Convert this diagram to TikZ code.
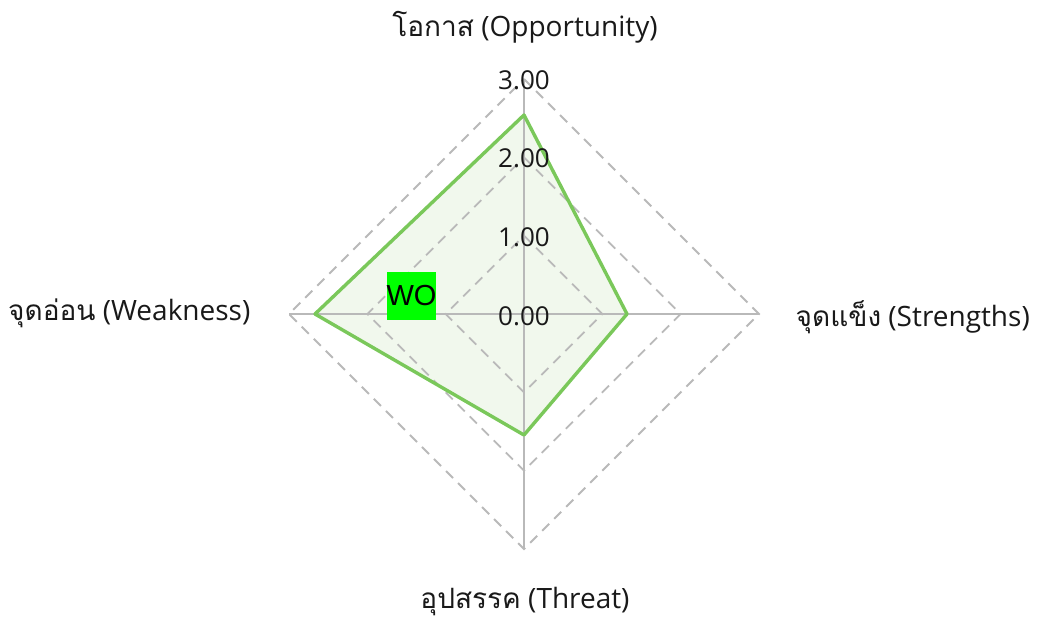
\documentclass[tikz,border=0pt]{standalone}
\usepackage{fontspec}
\usetikzlibrary{calc}
\setmainfont{Open Sans}
\newfontfamily\thaifont[Script=Thai]{Loma}
\newfontfamily\arialfont{Liberation Sans}
\definecolor{gridgray}{RGB}{185,185,185}
\definecolor{serline}{RGB}{122,200,90}
\definecolor{serfill}{RGB}{241,248,237}
\definecolor{txt}{RGB}{25,25,25}
\begin{document}
\begin{tikzpicture}[x=1pt,y=-1pt,
  axisline/.style={draw=gridgray,line width=1.8pt},
  ringline/.style={draw=gridgray,line width=1.8pt,dash pattern=on 10pt off 7pt},
  series/.style={draw=serline,line width=3.4pt,line join=round},
  ticklab/.style={font=\fontsize{26}{28}\selectfont,text=txt,inner sep=0pt},
  axlab/.style={font=\fontsize{28}{32}\selectfont,text=txt,inner sep=0pt},
  wobox/.style={fill=green,text=black,font=\arialfont\fontsize{29}{30}\selectfont,minimum width=49pt,minimum height=48pt,inner sep=0pt}]
\useasboundingbox (0,0) rectangle (1038,622);
\fill[white] (0,0) rectangle (1038,622);
% centre and axis ends
\coordinate (c) at (524,314);
\coordinate (top) at (524,79);
\coordinate (right) at (759,314);
\coordinate (bottom) at (524,548);
\coordinate (left) at (289,314);
% series points
\coordinate (pO) at (524,115);
\coordinate (pS) at (627,314);
\coordinate (pT) at (524,435);
\coordinate (pW) at (315,314);
% series fill (under grid)
\fill[serfill] (pO) -- (pS) -- (pT) -- (pW) -- cycle;
% axes
\draw[axisline] (c) -- (top);
\draw[axisline] (c) -- (right);
\draw[axisline] (c) -- (bottom);
\draw[axisline] (c) -- (left);
% rings
\foreach \r in {78.3,156.7,235} {
  \draw[ringline] ($(c)+(0,-\r)$) -- ($(c)+(\r,0)$) -- ($(c)+(0,\r)$) -- ($(c)+(-\r,0)$) -- cycle;
}
% series outline
\draw[series] (pO) -- (pS) -- (pT) -- (pW) -- cycle;
% tick labels
\node[ticklab] (t0) at (524,316) {0.00};
\node[ticklab] (t1) at (524,237) {1.00};
\node[ticklab] (t2) at (524,158) {2.00};
\node[ticklab] (t3) at (524,80) {3.00};
% axis labels
\node[axlab] (lO) at (525,27) {{\thaifont โอกาส} (Opportunity)};
\node[axlab,anchor=west] (lW) at (8,313) {{\thaifont จุดอ่อน} (Weakness)};
\node[axlab,anchor=east] (lS) at (1030,317) {{\thaifont จุดแข็ง} (Strengths)};
\node[axlab] (lT) at (525,602) {{\thaifont อุปสรรค} (Threat)};
% WO box
\node[wobox] (wo) at (411.5,296) {WO};
\end{tikzpicture}
\end{document}
